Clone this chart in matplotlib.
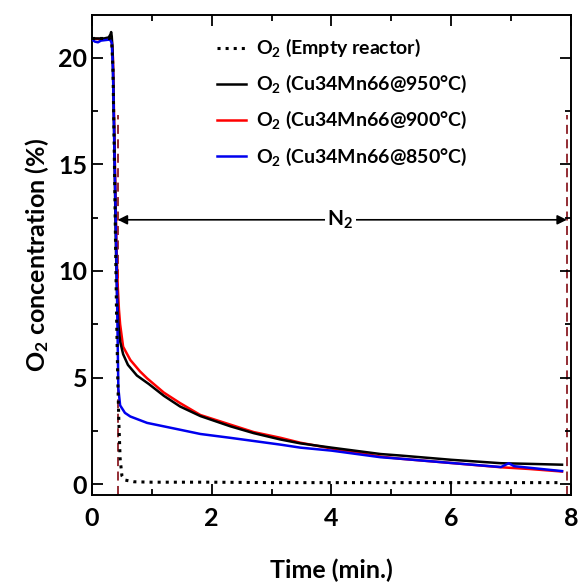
import numpy as np
import matplotlib
matplotlib.use('Agg')
import matplotlib.pyplot as plt
from matplotlib.ticker import MultipleLocator

plt.rcParams['font.family'] = ['Lato', 'DejaVu Sans']
plt.rcParams['font.weight'] = 'bold'
plt.rcParams['mathtext.fontset'] = 'custom'
plt.rcParams['mathtext.rm'] = 'Lato:bold'
plt.rcParams['mathtext.default'] = 'rm'

# empty reactor (dotted)
t_empty = [0, 0.1, 0.2, 0.3, 0.33, 0.35, 0.37, 0.39, 0.41, 0.43, 0.45, 0.47, 0.5, 0.55, 0.7, 1.0, 2.0, 3.0, 4.0, 5.0, 6.0, 7.0, 7.85]
o2_empty = [20.9, 20.9, 20.9, 20.9, 20.7, 19.5, 16.0, 12.0, 8.0, 5.0, 2.8, 1.2, 0.4, 0.2, 0.12, 0.1, 0.1, 0.08, 0.08, 0.08, 0.08, 0.08, 0.08]

# Cu34Mn66 @ 950
t_950 = [0, 0.1, 0.2, 0.28, 0.31, 0.32, 0.33, 0.345, 0.36, 0.38, 0.40, 0.42, 0.44, 0.47, 0.52, 0.6, 0.75, 0.95, 1.2, 1.47, 1.81, 2.31, 2.7, 3.15, 3.48, 4.0, 4.82, 5.15, 6.0, 6.83, 7.3, 7.85]
o2_950 = [20.9, 20.9, 20.9, 20.95, 21.1, 21.2, 21.0, 20.3, 18.0, 14.5, 11.0, 8.8, 7.5, 6.7, 6.1, 5.6, 5.1, 4.7, 4.15, 3.65, 3.2, 2.72, 2.4, 2.1, 1.92, 1.72, 1.42, 1.35, 1.15, 0.99, 0.96, 0.92]

# Cu34Mn66 @ 900
t_900 = [0, 0.2, 0.3, 0.33, 0.35, 0.37, 0.39, 0.41, 0.43, 0.45, 0.47, 0.52, 0.64, 0.8, 0.92, 1.2, 1.47, 1.81, 2.31, 2.7, 3.15, 3.48, 4.0, 4.82, 5.15, 6.0, 6.83, 7.3, 7.85]
o2_900 = [20.9, 20.85, 20.9, 20.8, 20.0, 17.0, 14.0, 11.0, 9.3, 8.2, 7.5, 6.45, 5.83, 5.3, 4.97, 4.3, 3.81, 3.25, 2.8, 2.45, 2.18, 1.95, 1.68, 1.3, 1.2, 1.0, 0.8, 0.72, 0.6]

# Cu34Mn66 @ 850
t_850 = [0, 0.05, 0.1, 0.15, 0.3, 0.33, 0.35, 0.37, 0.39, 0.41, 0.43, 0.44, 0.47, 0.55, 0.64, 0.92, 1.47, 1.81, 2.31, 3.15, 3.48, 4.0, 4.82, 5.15, 6.0, 6.83, 6.96, 7.05, 7.85]
o2_850 = [20.85, 20.75, 20.72, 20.8, 20.85, 20.7, 19.5, 16.5, 13.5, 10.5, 6.5, 4.5, 3.7, 3.35, 3.18, 2.88, 2.56, 2.36, 2.18, 1.86, 1.72, 1.58, 1.27, 1.2, 1.0, 0.81, 0.99, 0.85, 0.62]

purge_times = [0.43, 7.93]
purge_top = 17.3
arrow_y = 12.4
n2_x = 4.15

fig = plt.figure(figsize=(5.8, 5.86), dpi=100)
ax = fig.add_axes([0.1586, 0.1553, 0.8259, 0.8191])

ax.plot(t_empty, o2_empty, color='black', linestyle=':', lw=2.2, label='O$_2$ (Empty reactor)', zorder=5)
ax.plot(t_950, o2_950, color='black', lw=1.8, label='O$_2$ (Cu34Mn66@950°C)', zorder=3)
ax.plot(t_900, o2_900, color='#ff0000', lw=1.8, label='O$_2$ (Cu34Mn66@900°C)', zorder=2)
ax.plot(t_850, o2_850, color='#0000ee', lw=1.8, label='O$_2$ (Cu34Mn66@850°C)', zorder=4)

for xp in purge_times:
    ax.plot([xp, xp], [-0.5, purge_top], color='#8b1c24', lw=1.3, linestyle=(0, (5, 3)), zorder=1)

ax.annotate('', xy=(purge_times[0], arrow_y), xytext=(purge_times[1], arrow_y),
            arrowprops=dict(arrowstyle='<|-|>', color='black', lw=1.2, mutation_scale=14, shrinkA=0, shrinkB=0))
ax.text(n2_x, arrow_y, 'N$_2$', ha='center', va='center', fontsize=15, fontweight='bold',
        bbox=dict(facecolor='white', edgecolor='none', pad=1.5))

ax.set_xlim(0, 8)
ax.set_ylim(-0.5, 22)
ax.xaxis.set_major_locator(MultipleLocator(2))
ax.xaxis.set_minor_locator(MultipleLocator(1))
ax.yaxis.set_major_locator(MultipleLocator(5))
ax.yaxis.set_minor_locator(MultipleLocator(2.5))
ax.tick_params(which='both', direction='in', top=True, right=True, width=1.3, labelsize=18)
ax.tick_params(which='major', length=8)
ax.tick_params(which='minor', length=4)
ax.tick_params(axis='x', pad=9)
for s in ax.spines.values():
    s.set_linewidth(1.4)

ax.set_xlabel('Time (min.)', fontsize=18, fontweight='bold', labelpad=20)
ax.set_ylabel('O$_2$ concentration (%)', fontsize=18, fontweight='bold', labelpad=5)

ax.legend(loc='upper left', bbox_to_anchor=(0.225, 0.99), frameon=False, fontsize=14,
          handlelength=1.5, handletextpad=0.5, labelspacing=0.72)

fig.savefig('out.png', dpi=100)
